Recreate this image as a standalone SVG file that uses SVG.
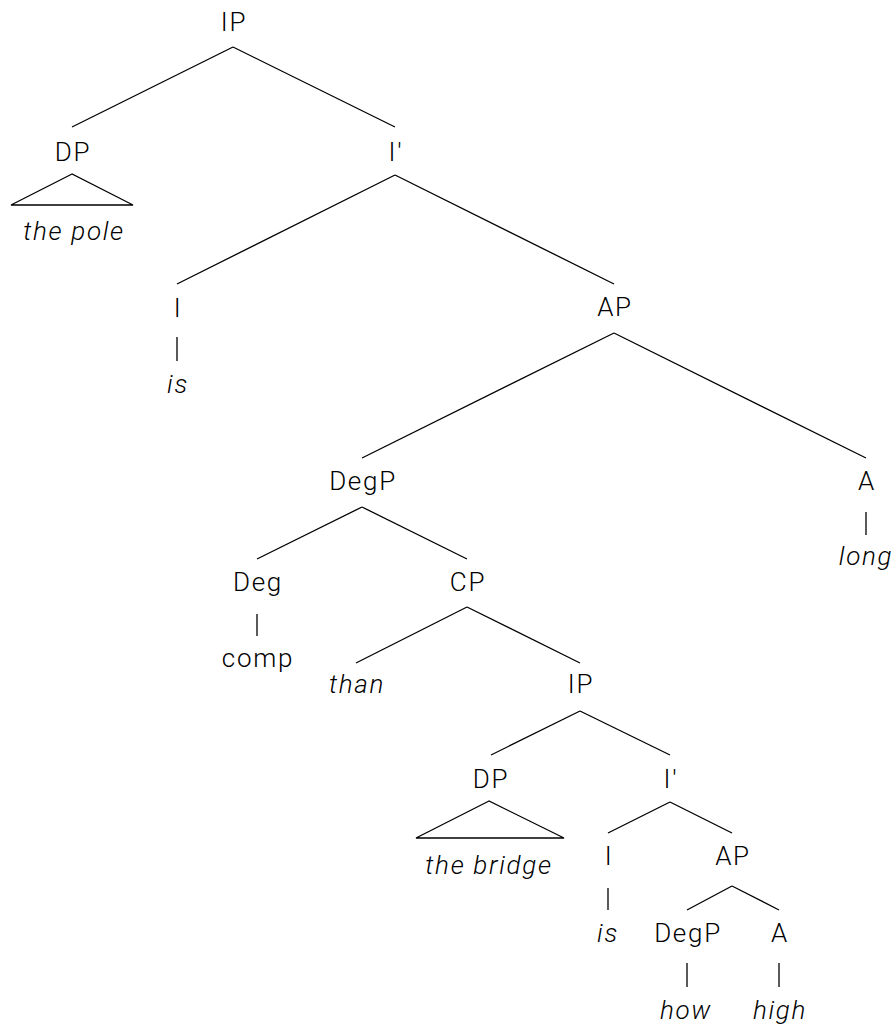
<svg xmlns="http://www.w3.org/2000/svg" width="896" height="1028" viewBox="0 0 896 1028">
<style>
text{font-family:Roboto,"Liberation Sans",Arial,sans-serif;font-weight:300;font-size:26px;letter-spacing:1.7px;fill:#000;text-anchor:middle}
.i{font-style:italic}
.e line,.e polygon{stroke:#000;stroke-width:1.3;fill:none}
</style>
<rect width="896" height="1028" fill="#fff"/>
<g id="edges" class="e">
<line x1="233" y1="47" x2="72" y2="127"/>
<line x1="233" y1="47" x2="395" y2="127"/>
<polygon points="72,174 11,205 133,205"/>
<line x1="395" y1="175" x2="177" y2="284"/>
<line x1="395" y1="175" x2="614" y2="284"/>
<line x1="177" y1="337" x2="177" y2="361"/>
<line x1="614" y1="333" x2="362" y2="458"/>
<line x1="614" y1="333" x2="866" y2="458"/>
<line x1="866" y1="512" x2="866" y2="535"/>
<line x1="362" y1="507" x2="257" y2="559"/>
<line x1="362" y1="507" x2="467" y2="559"/>
<line x1="257" y1="614" x2="257" y2="636"/>
<line x1="467" y1="607" x2="356" y2="663"/>
<line x1="467" y1="607" x2="580" y2="663"/>
<line x1="580" y1="711" x2="491" y2="755"/>
<line x1="580" y1="711" x2="670" y2="755"/>
<polygon points="489,801 416,838 564,838"/>
<line x1="670" y1="802" x2="608" y2="833"/>
<line x1="670" y1="802" x2="732" y2="833"/>
<line x1="608" y1="888" x2="608" y2="910"/>
<line x1="732" y1="886" x2="687" y2="910"/>
<line x1="732" y1="886" x2="779" y2="910"/>
<line x1="687" y1="963" x2="687" y2="987"/>
<line x1="779" y1="963" x2="779" y2="987"/>
</g>
<g id="n_IP"><text x="234" y="31">IP</text></g>
<g id="n_DP"><text x="73" y="161">DP</text></g>
<g id="n_thepole"><text class="i" x="74" y="240">the pole</text></g>
<g id="n_Ibar"><text x="396" y="161">I′</text></g>
<g id="n_I"><text x="178" y="317">I</text></g>
<g id="n_is"><text class="i" x="178" y="393">is</text></g>
<g id="n_AP"><text x="615" y="316">AP</text></g>
<g id="n_DegP"><text x="363" y="490">DegP</text></g>
<g id="n_A"><text x="867" y="490">A</text></g>
<g id="n_long"><text class="i" x="866" y="565">long</text></g>
<g id="n_Deg"><text x="258" y="591">Deg</text></g>
<g id="n_comp"><text x="258" y="667">comp</text></g>
<g id="n_CP"><text x="468" y="591">CP</text></g>
<g id="n_than"><text class="i" x="357" y="693">than</text></g>
<g id="n_IP2"><text x="581" y="693">IP</text></g>
<g id="n_DP2"><text x="491" y="788">DP</text></g>
<g id="n_thebridge"><text class="i" x="489" y="874">the bridge</text></g>
<g id="n_Ibar2"><text x="671" y="788">I′</text></g>
<g id="n_I2"><text x="609" y="865">I</text></g>
<g id="n_AP2"><text x="733" y="865">AP</text></g>
<g id="n_is2"><text class="i" x="608" y="942">is</text></g>
<g id="n_DegP2"><text x="688" y="942">DegP</text></g>
<g id="n_A2"><text x="780" y="942">A</text></g>
<g id="n_how"><text class="i" x="686" y="1019">how</text></g>
<g id="n_high"><text class="i" x="780" y="1019">high</text></g>
</svg>
